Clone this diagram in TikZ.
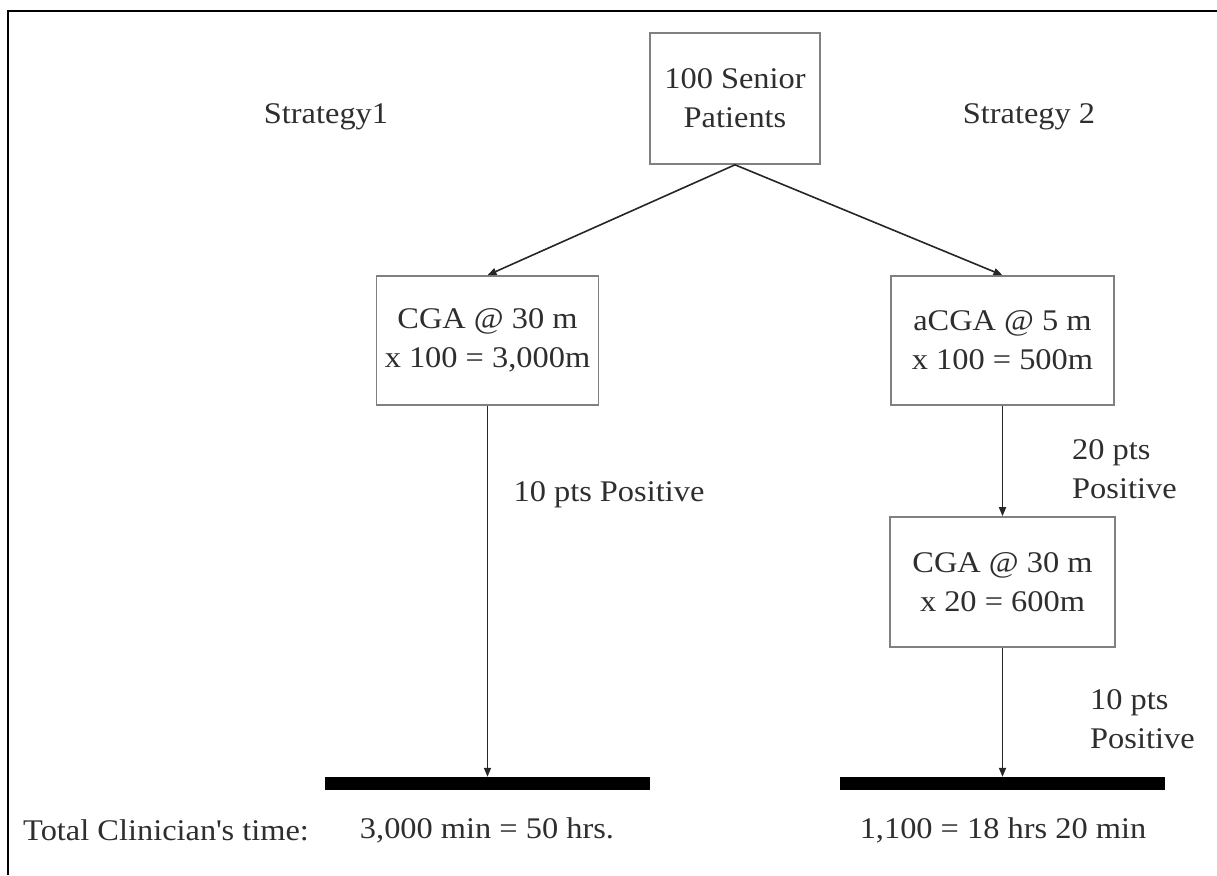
\documentclass[tikz,border=0pt]{standalone}
\usepackage{fontspec}
\setmainfont{Liberation Serif}[FakeStretch=1.08]
\usetikzlibrary{arrows.meta}
\begin{document}
\begin{tikzpicture}[x=1pt,y=-1pt,
  txt/.style={font=\fontsize{30}{39}\selectfont, text=black!82, inner sep=0pt},
  boxn/.style={txt, draw=black!50, line width=1.6pt, align=center},
  barn/.style={fill=black, draw=none, minimum width=325pt, minimum height=13pt, inner sep=0pt},
  conn/.style={draw=black!85, line width=1.6pt, -{Triangle[length=9pt,width=7pt]}}]
\useasboundingbox (0,0) rectangle (1217,875);
\draw[line width=2.2pt] (1217,11) -- (8,11) -- (8,875);
\node[boxn, minimum width=170pt, minimum height=131pt] (top) at (735,98.5) {100 Senior\\Patients};
\node[boxn, minimum width=222pt, minimum height=129pt] (l1) at (487.5,340.5) {CGA @ 30 m\\x 100 = 3,000m};
\node[boxn, minimum width=223pt, minimum height=129pt] (r1) at (1002.5,340.5) {aCGA @ 5 m\\x 100 = 500m};
\node[boxn, minimum width=225pt, minimum height=130pt] (r2) at (1002.5,582) {CGA @ 30 m\\x 20 = 600m};
\node[barn] (lb) at (487.5,783.5) {};
\node[barn] (rb) at (1002.5,783.5) {};
\node[txt] (s1) at (326,117) {Strategy1};
\node[txt] (s2) at (1029,117) {Strategy 2};
\node[txt] (p1) at (609,495) {10 pts Positive};
\node[txt, align=left, anchor=west] (p2) at (1072,469) {20 pts\\Positive};
\node[txt, align=left, anchor=west] (p3) at (1090,719) {10 pts\\Positive};
\node[txt, anchor=west] (t0) at (23,830) {Total Clinician\textquotesingle s time:};
\node[txt] (t1) at (487,830) {3,000 min = 50 hrs.};
\node[txt] (t2) at (1003,830) {1,100 = 18 hrs 20 min};
\draw[conn] (top.south) -- (l1.north);
\draw[conn] (top.south) -- (r1.north);
\draw[conn] (l1.south) -- (lb.north);
\draw[conn] (r1.south) -- (r2.north);
\draw[conn] (r2.south) -- (rb.north);
\end{tikzpicture}
\end{document}
